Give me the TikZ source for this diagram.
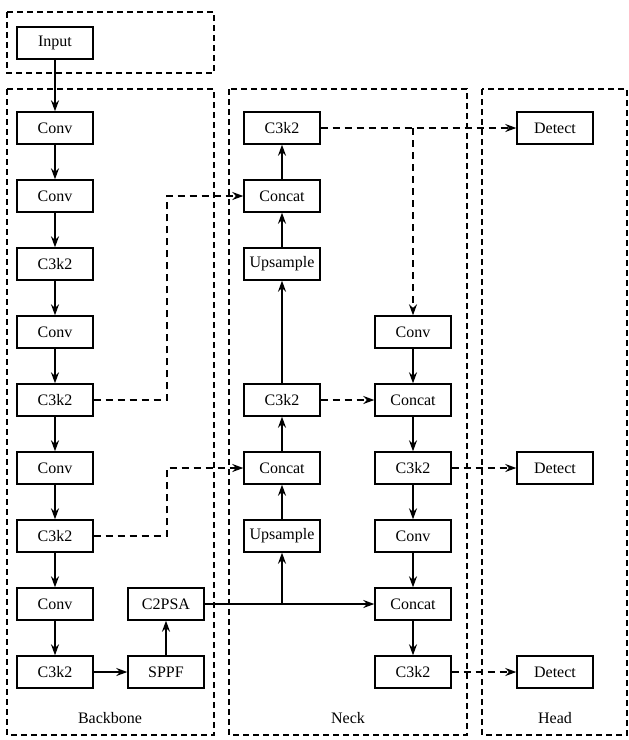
\documentclass[tikz,border=0pt]{standalone}
\usepackage{fontspec}
\setmainfont{Liberation Serif}
\usetikzlibrary{arrows.meta}

\tikzset{
    block/.style={draw, line width=1.4pt, minimum width=76pt, minimum height=32pt,
        inner sep=0pt, font=\fontsize{16}{19}\selectfont},
    group/.style={line width=1.3pt, dash pattern=on 6pt off 4pt},
    flow/.style={line width=1.4pt, -{Stealth[length=11pt, width=8pt]}},
    skip/.style={flow, dash pattern=on 7pt off 5pt},
    tag/.style={font=\fontsize{16}{19}\selectfont}
}

\begin{document}
\begin{tikzpicture}[x=1pt, y=-1pt]
    \useasboundingbox (0, 0) rectangle (629, 740);

    % Dashed groups
    \draw[group] (7, 12) rectangle (214, 73);
    \draw[group] (7, 89) rectangle (214, 735);
    \draw[group] (229, 89) rectangle (467, 735);
    \draw[group] (482, 89) rectangle (627, 735);
    \node[tag] (lbback) at (110, 718) {Backbone};
    \node[tag] (lbneck) at (348, 718) {Neck};
    \node[tag] (lbhead) at (555, 718) {Head};

    % Backbone
    \node[block] (inp) at (55, 43) {Input};
    \foreach \name/\txt/\y in {bconva/Conv/128, bconvb/Conv/196, bcska/C3k2/264,
            bconvc/Conv/332, bcskb/C3k2/400, bconvd/Conv/468, bcskc/C3k2/536,
            bconve/Conv/604, bcskd/C3k2/672}
        \node[block] (\name) at (55, \y) {\txt};
    \node[block] (sppf) at (166, 672) {SPPF};
    \node[block] (psa) at (166, 604) {C2PSA};

    \draw[flow] (inp) -- (bconva);
    \draw[flow] (bconva) -- (bconvb);
    \draw[flow] (bconvb) -- (bcska);
    \draw[flow] (bcska) -- (bconvc);
    \draw[flow] (bconvc) -- (bcskb);
    \draw[flow] (bcskb) -- (bconvd);
    \draw[flow] (bconvd) -- (bcskc);
    \draw[flow] (bcskc) -- (bconve);
    \draw[flow] (bconve) -- (bcskd);
    \draw[flow] (bcskd) -- (sppf);
    \draw[flow] (sppf) -- (psa);

    % Neck, top-down path
    \node[block] (nska) at (282, 128) {C3k2};
    \node[block] (ncata) at (282, 196) {Concat};
    \node[block] (nupa) at (282, 264) {Upsample};
    \node[block] (nskb) at (282, 400) {C3k2};
    \node[block] (ncatb) at (282, 468) {Concat};
    \node[block] (nupb) at (282, 536) {Upsample};

    % Neck, bottom-up path
    \node[block] (nconva) at (413, 332) {Conv};
    \node[block] (ncatc) at (413, 400) {Concat};
    \node[block] (nskc) at (413, 468) {C3k2};
    \node[block] (nconvb) at (413, 536) {Conv};
    \node[block] (ncatd) at (413, 604) {Concat};
    \node[block] (nskd) at (413, 672) {C3k2};

    % Head
    \node[block] (deta) at (555, 128) {Detect};
    \node[block] (detb) at (555, 468) {Detect};
    \node[block] (detc) at (555, 672) {Detect};

    \draw[flow] (psa) -- (ncatd);
    \draw[flow] (nupb |- psa) -- (nupb);
    \draw[flow] (nupb) -- (ncatb);
    \draw[flow] (ncatb) -- (nskb);
    \draw[flow] (nskb) -- (nupa);
    \draw[flow] (nupa) -- (ncata);
    \draw[flow] (ncata) -- (nska);

    \draw[flow] (nconva) -- (ncatc);
    \draw[flow] (ncatc) -- (nskc);
    \draw[flow] (nskc) -- (nconvb);
    \draw[flow] (nconvb) -- (ncatd);
    \draw[flow] (ncatd) -- (nskd);

    % Skip connections
    \coordinate (skx) at (167, 0);
    \draw[skip] (bcskb) -| (skx |- ncata) -- (ncata);
    \draw[skip] (bcskc) -| (skx |- ncatb) -- (ncatb);
    \draw[skip] (nskb) -- (ncatc);
    \draw[skip] (nska) -- (deta);
    \draw[skip] (nconva |- nska) -- (nconva);
    \draw[skip] (nskc) -- (detb);
    \draw[skip] (nskd) -- (detc);
\end{tikzpicture}
\end{document}
